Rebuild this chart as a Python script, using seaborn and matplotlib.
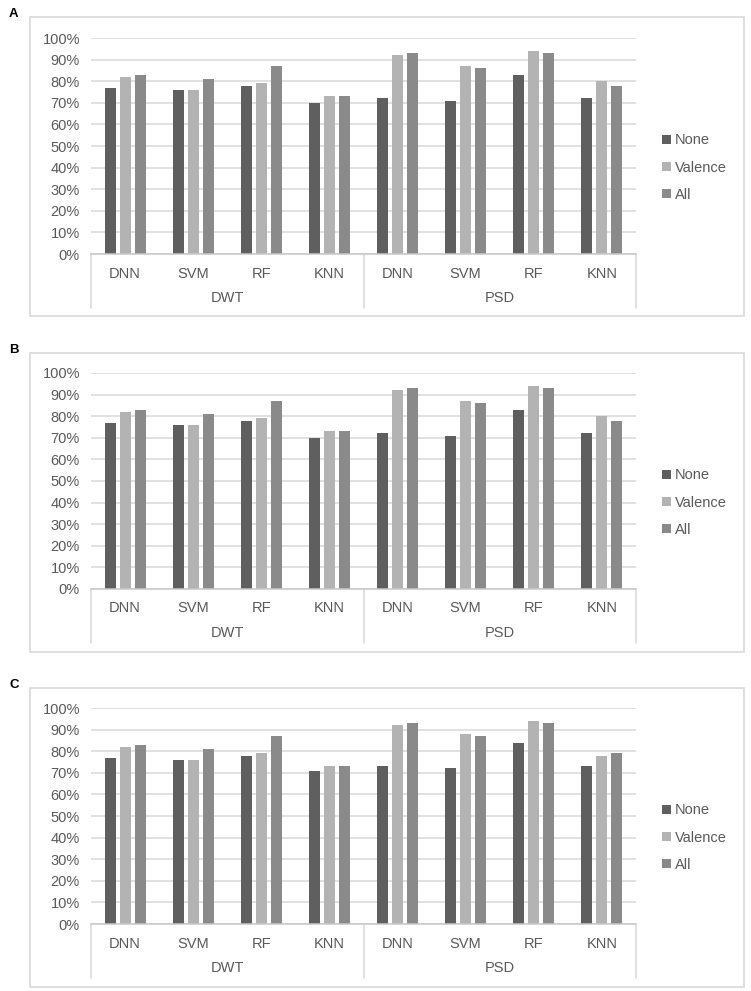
import pandas as pd
import matplotlib
matplotlib.use("Agg")
import matplotlib.pyplot as plt
from matplotlib.patches import Rectangle
from matplotlib.ticker import PercentFormatter
import seaborn as sns

# data (accuracy in %)
groups   = ["DWT", "PSD"]
methods  = ["DNN", "SVM", "RF", "KNN"]
features = ["None", "Valence", "All"]
panels   = ["A", "B", "C"]

# per panel: one list per feature set, ordered DWT(DNN,SVM,RF,KNN) then PSD(DNN,SVM,RF,KNN)
none_A    = [77, 76, 78, 70, 72, 71, 83, 72]
valence_A = [82, 76, 79, 73, 92, 87, 94, 80]
all_A     = [83, 81, 87, 73, 93, 86, 93, 78]

none_B    = [77, 76, 78, 70, 72, 71, 83, 72]
valence_B = [82, 76, 79, 73, 92, 87, 94, 80]
all_B     = [83, 81, 87, 73, 93, 86, 93, 78]

none_C    = [77, 76, 78, 71, 73, 72, 84, 73]
valence_C = [82, 76, 79, 73, 92, 88, 94, 78]
all_C     = [83, 81, 87, 73, 93, 87, 93, 79]

panel_values = {
    "A": [none_A, valence_A, all_A],
    "B": [none_B, valence_B, all_B],
    "C": [none_C, valence_C, all_C],
}

colors = {"None": "#5f5f5f", "Valence": "#b3b3b3", "All": "#8a8a8a"}
text_col = "#595959"
line_col = "#d9d9d9"

sns.set_style("white")
plt.rcParams["font.family"] = ["Liberation Sans", "DejaVu Sans"]

W, H = 751, 991
fig = plt.figure(figsize=(W / 100, H / 100), dpi=100)

box_tops  = [17, 353, 688]
plot_tops = [38, 373, 708]
plot_h    = 216
plot_l, plot_r = 91, 636

slots = [g + "-" + m for g in groups for m in methods]

for p, btop, ptop in zip(panels, box_tops, plot_tops):
    rows = []
    for f, vals in zip(features, panel_values[p]):
        for s, v in zip(slots, vals):
            rows.append({"slot": s, "feature": f, "acc": v / 100})
    df = pd.DataFrame(rows)

    # outer chart frame + panel letter
    fig.patches.append(Rectangle((30 / W, 1 - (btop + 299) / H), 714 / W, 299 / H,
                                 transform=fig.transFigure, fill=False,
                                 ec=line_col, lw=1.2))
    fig.text(9 / W, 1 - (btop - 3) / H, p, fontsize=9.5, fontweight="bold",
             color="black", va="center", ha="left")

    ax = fig.add_axes([plot_l / W, 1 - (ptop + plot_h) / H,
                       (plot_r - plot_l) / W, plot_h / H])
    sns.barplot(data=df, x="slot", y="acc", hue="feature", order=slots,
                hue_order=features, palette=colors, width=0.66, gap=0.27,
                saturation=1, linewidth=0, ax=ax, legend=True)

    ax.set_ylim(0, 1)
    ax.set_xlim(-0.5, len(slots) - 0.5)
    ax.set_yticks([i / 10 for i in range(11)])
    ax.yaxis.set_major_formatter(PercentFormatter(1.0, decimals=0))
    ax.yaxis.grid(True, color=line_col, lw=1.1)
    ax.set_axisbelow(True)
    ax.set_xlabel("")
    ax.set_ylabel("")
    for side in ["left", "right", "top"]:
        ax.spines[side].set_visible(False)
    ax.spines["bottom"].set_color("#c8c8c8")
    ax.spines["bottom"].set_linewidth(1.1)

    ax.set_xticks(range(len(slots)))
    ax.set_xticklabels([s.split("-")[1] for s in slots])
    ax.tick_params(axis="x", length=0, pad=9, labelsize=10.5, labelcolor=text_col)
    ax.tick_params(axis="y", length=0, pad=8, labelsize=10.5, labelcolor=text_col)

    # two-level category axis: group labels and separators
    tr = ax.get_xaxis_transform()
    for xs in [-0.5, 3.5, 7.5]:
        ax.plot([xs, xs], [0, -0.25], color=line_col, lw=1.1,
                transform=tr, clip_on=False)
    for i, g in enumerate(groups):
        ax.text(i * 4 + 1.5, -0.205, g, transform=tr, ha="center", va="center",
                fontsize=10.5, color=text_col)

    sns.move_legend(ax, "center left", bbox_to_anchor=(1.048, 0.40),
                    frameon=False, title=None, fontsize=10.5,
                    handlelength=0.6, handleheight=0.6, handletextpad=0.25,
                    labelspacing=0.9, borderpad=0, borderaxespad=0,
                    labelcolor=text_col)

fig.savefig("out.png", dpi=100)
